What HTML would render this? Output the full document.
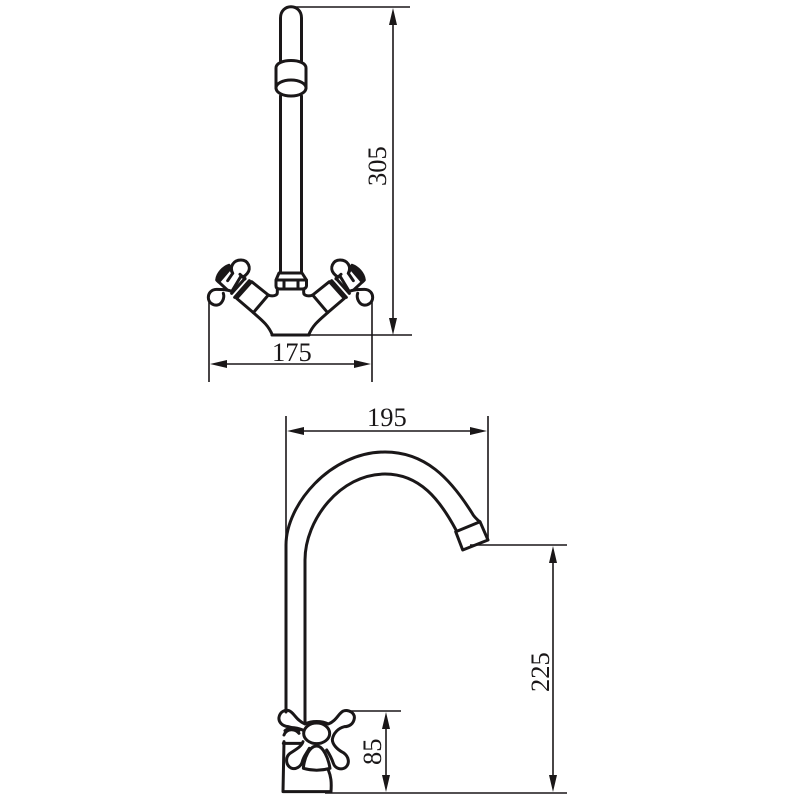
<!DOCTYPE html>
<html><head><meta charset="utf-8"><style>
html,body{margin:0;padding:0;background:#fff;width:800px;height:800px;overflow:hidden}
svg{display:block}
text{font-family:"Liberation Serif",serif;font-size:26.500px;fill:#1a1718}
</style></head><body>
<svg width="800" height="800" viewBox="0 0 800 800">
<defs>
<g id="h" fill="none" stroke="#1a1718" stroke-width="9" stroke-linejoin="round" stroke-linecap="round">
<path d="M262 150V158C262 168 245 170 235 165L185 125L140 175L190 218L235 165"/>
<path d="M190 218C215 240 235 255 247 285"/>
<path d="M178 122L134 172M165 115L125 160M150 103L165 117"/>
<path d="M125 155L152 110C160 112 165 108 172 100C185 85 175 60 153 60C130 60 118 80 128 100L113 122"/>
<path d="M128 155C110 148 95 148 80 148C62 148 55 162 55 172C55 188 70 197 82 195C95 193 105 175 100 160"/>
<path d="M82 122L110 148M118 80L128 100"/>
<path d="M80 120C82 100 100 82 117 76L122 84L86 126Z" fill="#1a1718"/>
</g>
</defs>
<g fill="none" stroke="#1a1718" stroke-width="1.600">
<path d="M295 7H410M310 335H412M209 300V382M372 300V382M393 20V325"/>
<path d="M222 364H360"/>
<path d="M286 416V705M488 416V540M470 545H567M325 793H567M345 711H401"/>
<path d="M300 431H475"/>
<path d="M553 560V780"/>
<path d="M386 725V780"/>
</g>
<g fill="#1a1718">
<path d="M393 8L397 25H389ZM393 335L397 318H389Z"/>
<path d="M210 364L227 360V368ZM371 364L354 360V368Z"/>
<path d="M287 431L304 427V435ZM487 431L470 427V435Z"/>
<path d="M553 546L557 563H549ZM553 792L557 775H549Z"/>
<path d="M386 712L390 729H382ZM386 792L390 775H382Z"/>
</g>
<g fill="none" stroke="#1a1718" stroke-width="3" stroke-linejoin="round" stroke-linecap="round">
<path d="M280.500 61V18C280.500 3 301.500 3 301.500 18V61"/>
<path d="M280.500 96V273M301.500 96V273"/>
<path d="M276 88V68C276 58 306 58 306 68V88"/>
<ellipse cx="291" cy="88" rx="15" ry="8"/>
<path d="M279 273H302L306.500 280V286Q306 289 302 289H280Q276 289 276 286V280ZM276 280H306.500M284 280V289M298 280V289"/>
<path d="M272 335H309"/>
<use href="#h" transform="translate(190 240) scale(.3333)"/>
<use href="#h" transform="translate(391 240) scale(-.3333 .3333)"/>
<path d="M286 712V545C286 505 330 452 385 452C425 452 450 478 472 513Q474 517 480 522"/>
<path d="M305 722V560C305 520 340 474 385 474C420 474 440 500 456 530"/>
<path d="M455.700 531.700L480 521.700L488 540L462.700 550Z"/>
<g transform="translate(275 700) scale(.3333)" stroke-width="9">
<path d="M168 275C170 245 168 230 160 210M27 125L24 275H168"/>
<path d="M25 130H78M27 105C35 85 60 85 72 100M30 92C42 82 60 82 72 92"/>
<ellipse cx="125" cy="100" rx="39" ry="31"/>
<path d="M86 92C70 82 55 85 40 80C20 78 10 65 12 52C15 35 30 28 42 32C58 38 62 60 90 72C110 62 140 62 160 72C185 62 190 40 205 33C222 27 240 40 238 55C236 72 222 80 208 80C190 84 175 100 172 118C172 132 185 148 205 158C222 170 225 190 212 202C198 212 180 205 175 190C170 175 165 165 155 150"/>
<path d="M84 125C80 140 60 150 45 160C30 172 32 195 48 204C62 210 78 200 82 185C85 170 95 160 103 145"/>
<path d="M85 205C88 170 105 138 125 138C145 138 160 175 165 205C140 212 110 212 85 205Z"/>
</g>
</g>
<text x="272" y="361">175</text>
<text x="367" y="426">195</text>
<text transform="translate(386 186) rotate(-90)">305</text>
<text transform="translate(549 692) rotate(-90)">225</text>
<text transform="translate(381 765) rotate(-90)">85</text>
</svg>
</body></html>
